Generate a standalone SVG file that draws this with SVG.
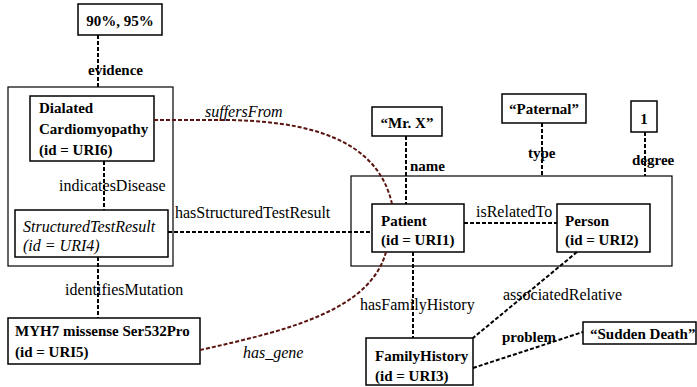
<svg xmlns="http://www.w3.org/2000/svg" width="697" height="387" viewBox="0 0 697 387">
<style>
.box{fill:#fff;stroke:#000;stroke-width:1.5}
.frame{fill:none;stroke:#000;stroke-width:1.2}
.b{font-family:"Liberation Serif",serif;font-size:15px;font-weight:bold;fill:#000}
.n{font-family:"Liberation Serif",serif;font-size:16px;fill:#000}
.i{font-family:"Liberation Serif",serif;font-size:16px;font-style:italic;fill:#000}
.d{fill:none;stroke:#000;stroke-width:2;stroke-dasharray:4 2}
.c{fill:none;stroke:#5a1510;stroke-width:2;stroke-dasharray:4 2}
</style>
<rect x="0" y="0" width="697" height="387" fill="#fff"/>
<g id="frames">
<rect class="frame" x="8" y="87" width="165" height="179"/>
<rect class="frame" x="351" y="176" width="321" height="90"/>
</g>
<g id="evidenceValue"><rect class="box" x="78" y="4" width="84" height="31"/><text class="b" x="120" y="26" text-anchor="middle">90%, 95%</text></g>
<g id="uri6"><rect class="box" x="30" y="96" width="124" height="65"/><text class="b" x="39" y="113">Dialated</text><text class="b" x="39" y="134">Cardiomyopathy</text><text class="b" x="39" y="155">(id = URI6)</text></g>
<g id="uri4"><rect class="box" x="15" y="210" width="153" height="47"/><text class="i" x="23" y="232">StructuredTestResult</text><text class="i" x="23" y="251">(id = URI4)</text></g>
<g id="uri5"><rect class="box" x="8" y="318" width="192" height="46"/><text class="b" x="15" y="336">MYH7 missense Ser532Pro</text><text class="b" x="15" y="357">(id = URI5)</text></g>
<g id="mrx"><rect class="box" x="372" y="107" width="70" height="29"/><text class="b" x="407" y="128" text-anchor="middle">“Mr. X”</text></g>
<g id="paternal"><rect class="box" x="502" y="94" width="84" height="29"/><text class="b" x="544" y="114" text-anchor="middle">“Paternal”</text></g>
<g id="degreeValue"><rect class="box" x="631" y="101" width="26" height="31"/><text class="b" x="644" y="124" text-anchor="middle">1</text></g>
<g id="uri1"><rect class="box" x="372" y="204" width="92" height="48"/><text class="b" x="381" y="226">Patient</text><text class="b" x="381" y="245">(id = URI1)</text></g>
<g id="uri2"><rect class="box" x="557" y="204" width="93" height="48"/><text class="b" x="565" y="226">Person</text><text class="b" x="565" y="245">(id = URI2)</text></g>
<g id="uri3"><rect class="box" x="366" y="338" width="107" height="47"/><text class="b" x="375" y="361">FamilyHistory</text><text class="b" x="375" y="381">(id = URI3)</text></g>
<g id="suddenDeath"><rect class="box" x="583" y="322" width="113" height="22"/><text class="b" x="590" y="339">“Sudden Death”</text></g>
<g id="connectors">
<text class="b" x="88" y="75">evidence</text>
<text class="n" x="59" y="191">indicatesDisease</text>
<text class="n" x="65" y="295">identifiesMutation</text>
<text class="n" x="175" y="218">hasStructuredTestResult</text>
<text class="i" x="205" y="117">suffersFrom</text>
<text class="i" x="243" y="358">has_gene</text>
<text class="b" x="410" y="171">name</text>
<text class="b" x="528" y="158">type</text>
<text class="b" x="632" y="165">degree</text>
<text class="n" x="476" y="217">isRelatedTo</text>
<text class="n" x="360" y="310">hasFamilyHistory</text>
<text class="n" x="503" y="300">associatedRelative</text>
<text class="b" x="502" y="342">problem</text>
<path class="d" d="M98,35 V87"/>
<path class="d" d="M104,161 V210"/>
<path class="d" d="M98,257 V318"/>
<path class="d" d="M168,232 H372"/>
<path class="d" d="M406,136 V204"/>
<path class="d" d="M542,123 V176"/>
<path class="d" d="M645,132 V176"/>
<path class="d" d="M464,223 H557"/>
<path class="d" d="M413,252 V338"/>
<path class="d" d="M577,252 L473,338"/>
<path class="d" d="M473,368 L583,332"/>
<path class="c" d="M154,120 L230,120 C330,122 380,150 392,204"/>
<path class="c" d="M200,350 C290,330 370,310 386,252"/>
</g>
</svg>
